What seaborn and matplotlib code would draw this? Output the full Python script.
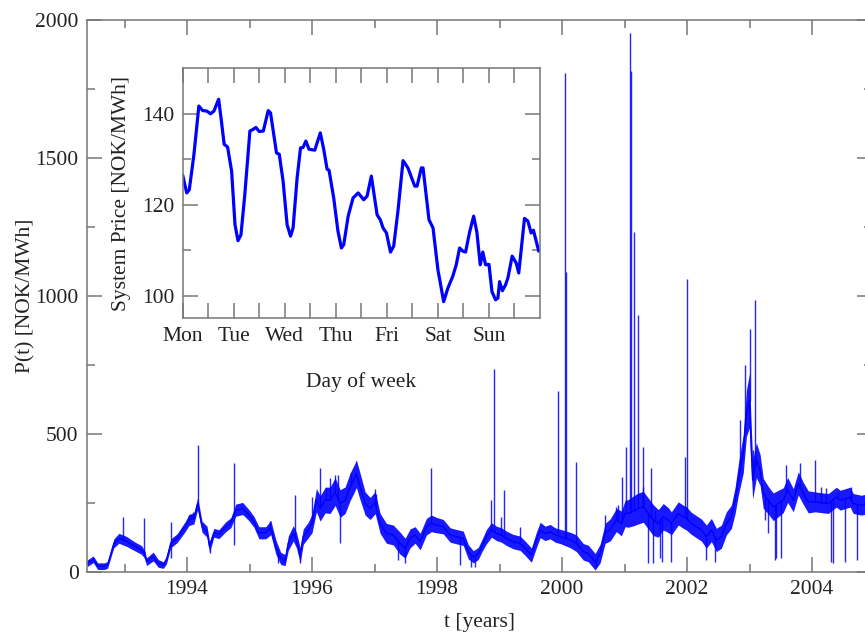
import numpy as np
import pandas as pd
import matplotlib
matplotlib.use("Agg")
import matplotlib.pyplot as plt
import seaborn as sns
from matplotlib.ticker import MultipleLocator, FixedLocator

# ---------------- data ----------------
# main series: smoothed level of the daily system price, with half-width of the daily noise band
year = [1992.40, 1992.50, 1992.57, 1992.68, 1992.73, 1992.80, 1992.83, 1992.91, 1993.03, 1993.17,
        1993.27, 1993.33, 1993.35, 1993.46, 1993.54, 1993.62, 1993.67, 1993.74, 1993.84, 1993.97,
        1994.03, 1994.11, 1994.17, 1994.24, 1994.32, 1994.36, 1994.43, 1994.51, 1994.62, 1994.70,
        1994.78, 1994.89, 1994.99, 1995.07, 1995.15, 1995.26, 1995.34, 1995.42, 1995.50, 1995.57,
        1995.62, 1995.70, 1995.75, 1995.81, 1995.86, 1995.94, 1996.00, 1996.07, 1996.13, 1996.21,
        1996.29, 1996.37, 1996.45, 1996.53, 1996.61, 1996.67, 1996.71, 1996.77, 1996.85, 1996.93,
        1997.01, 1997.09, 1997.19, 1997.30, 1997.41, 1997.49, 1997.57, 1997.65, 1997.73, 1997.83,
        1997.91, 1997.99, 1998.10, 1998.21, 1998.31, 1998.42, 1998.50, 1998.58, 1998.66, 1998.72,
        1998.79, 1998.87, 1998.95, 1999.03, 1999.11, 1999.22, 1999.33, 1999.41, 1999.51, 1999.59,
        1999.65, 1999.73, 1999.81, 1999.89, 1999.98, 2000.13, 2000.23, 2000.34, 2000.42, 2000.53,
        2000.61, 2000.69, 2000.77, 2000.87, 2000.95, 2001.01, 2001.06, 2001.14, 2001.22, 2001.30,
        2001.38, 2001.46, 2001.54, 2001.62, 2001.70, 2001.75, 2001.86, 2001.94, 2001.99, 2002.07,
        2002.15, 2002.23, 2002.31, 2002.39, 2002.47, 2002.55, 2002.63, 2002.71, 2002.77, 2002.82,
        2002.90, 2002.95, 2003.00, 2003.02, 2003.05, 2003.11, 2003.17, 2003.22, 2003.30, 2003.38,
        2003.46, 2003.54, 2003.61, 2003.70, 2003.78, 2003.86, 2003.94, 2004.05, 2004.15, 2004.26,
        2004.39, 2004.45, 2004.61, 2004.66, 2004.79, 2004.96]
price = [30, 45, 20, 20, 25, 80, 103, 121, 110, 91,
         79, 60, 36, 55, 30, 24, 42, 103, 121, 163,
         187, 193, 247, 163, 145, 90, 141, 136, 163, 177,
         223, 229, 205, 181, 141, 141, 160, 90, 48, 42,
         103, 139, 115, 60, 127, 151, 175, 259, 229, 259,
         259, 290, 247, 259, 308, 335, 355, 308, 247, 229,
         250, 175, 139, 133, 103, 85, 121, 133, 109, 163,
         175, 169, 163, 133, 127, 121, 72, 54, 66, 95,
         127, 151, 139, 133, 121, 109, 103, 85, 60, 115,
         151, 139, 145, 133, 127, 115, 103, 72, 66, 36,
         66, 139, 151, 187, 175, 211, 211, 220, 229, 235,
         211, 187, 175, 199, 187, 175, 211, 199, 193, 175,
         163, 151, 127, 151, 115, 127, 175, 199, 259, 332,
         428, 573, 620, 489, 332, 404, 368, 284, 259, 235,
         247, 259, 296, 259, 320, 284, 253, 253, 250, 247,
         270, 259, 270, 247, 241, 250]
spread = [12, 12, 12, 12, 12, 14, 16, 18, 18, 16,
          16, 14, 14, 16, 14, 12, 14, 16, 16, 18,
          20, 20, 22, 20, 20, 20, 16, 16, 18, 18,
          22, 22, 20, 20, 22, 22, 26, 26, 22, 20,
          26, 28, 28, 28, 28, 28, 34, 42, 46, 46,
          48, 50, 50, 48, 50, 50, 50, 48, 42, 40,
          40, 36, 36, 36, 40, 36, 34, 30, 30, 30,
          30, 28, 26, 26, 26, 26, 26, 22, 22, 22,
          26, 26, 26, 26, 26, 26, 26, 26, 26, 28,
          28, 26, 26, 26, 26, 28, 30, 30, 30, 30,
          34, 36, 40, 42, 45, 48, 50, 54, 56, 56,
          56, 56, 50, 48, 45, 42, 42, 42, 42, 40,
          40, 40, 42, 42, 42, 42, 42, 42, 48, 56,
          70, 84, 98, 84, 70, 63, 56, 54, 50, 50,
          48, 45, 45, 42, 42, 40, 40, 36, 36, 36,
          36, 36, 36, 36, 36, 36]

# isolated price spikes (upwards) and dips (downwards)
spike_year = [1992.97, 1993.31, 1993.74, 1994.03, 1994.07, 1994.10, 1994.18, 1994.75, 1995.33, 1995.72,
              1996.00, 1996.13, 1996.23, 1996.29, 1996.37, 1996.42, 1996.63, 1997.01, 1997.03, 1997.91,
              1998.86, 1998.91, 1999.02, 1999.07, 1999.33, 1999.94, 2000.05, 2000.06, 2000.22, 2000.69,
              2000.87, 2000.90, 2000.96, 2001.02, 2001.09, 2001.10, 2001.15, 2001.22, 2001.29, 2001.30,
              2001.43, 2001.49, 2001.96, 2002.00, 2002.85, 2002.93, 2003.00, 2003.05, 2003.09, 2003.59,
              2003.80, 2004.04, 2004.15, 2004.23, 2004.42, 2004.63]
spike_price = [199, 193, 181, 205, 210, 215, 458, 392, 185, 278,
               271, 374, 308, 338, 350, 350, 356, 300, 283, 374,
               259, 733, 199, 296, 163, 654, 1806, 1086, 398, 205,
               235, 241, 344, 452, 1950, 1815, 1230, 929, 452, 308,
               374, 223, 416, 1062, 549, 748, 881, 440, 983, 386,
               392, 404, 308, 302, 290, 308]
dip_year = [1993.75, 1994.36, 1994.75, 1995.45, 1995.55, 1995.81, 1996.45, 1997.38, 1997.49, 1998.37,
            1998.55, 1998.61, 2000.55, 2001.38, 2001.46, 2001.57, 2001.60, 2001.75, 2002.31, 2002.45,
            2003.25, 2003.30, 2003.41, 2003.43, 2003.51, 2004.31, 2004.34, 2004.53, 2004.72]
dip_price = [48, 66, 96, 30, 30, 30, 103, 42, 30, 24,
             18, 18, 20, 30, 33, 48, 36, 36, 42, 36,
             187, 140, 42, 48, 48, 36, 33, 36, 42]

# inset: average weekly profile
inset_hours = [0, 1.9, 3.1, 5.3, 7.6, 9.4, 11.3, 13.1, 14.7, 16.9,
               18.1, 19.5, 21.1, 23.0, 24.6, 26.0, 27.4, 29.2, 31.6, 33.2,
               34.4, 36.0, 37.9, 40.2, 41.3, 44.1, 45.4, 47.2, 49.1, 50.7,
               51.9, 53.8, 55.4, 56.6, 57.9, 59.4, 62.1, 64.7, 66.3, 67.9,
               68.8, 71.0, 73.0, 74.6, 75.7, 77.8, 80.1, 82.5, 85.1, 86.7,
               88.7, 91.4, 92.9, 94.2, 95.8, 97.7, 99.2, 101.2, 103.6, 105.9,
               109.1, 110.2, 112.2, 113.0, 115.8, 117.7, 120.0, 122.7, 124.7, 127.0,
               128.6, 130.2, 131.7, 133.0, 134.9, 136.8, 138.3, 139.9, 141.1, 142.4,
               144.0, 145.4, 147.1, 148.2, 149.0, 150.3, 151.8, 152.9, 154.9, 156.8,
               158.0, 160.7, 162.3, 163.8, 164.9, 167.4]
inset_price = [126.5, 122.6, 123.3, 131.1, 141.7, 140.7, 140.6, 140.0, 140.6, 143.2,
               138.8, 133.3, 132.7, 127.4, 115.6, 112.1, 113.4, 122.2, 136.2, 136.6,
               137.0, 136.1, 136.2, 140.7, 140.2, 131.4, 131.1, 125.2, 115.6, 113.1,
               114.9, 125.9, 132.5, 132.6, 134.0, 132.2, 132.0, 135.8, 132.2, 127.8,
               127.6, 121.5, 114.2, 110.5, 111.2, 117.5, 121.5, 122.6, 121.1, 121.9,
               126.3, 117.8, 116.7, 114.9, 113.8, 109.6, 110.9, 118.6, 129.7, 128.1,
               124.1, 124.1, 128.1, 128.1, 116.7, 114.9, 105.7, 98.7, 101.7, 104.3,
               106.8, 110.5, 109.8, 109.6, 114.0, 117.5, 114.0, 106.8, 109.6, 106.8,
               106.9, 100.9, 99.1, 99.5, 103.1, 101.1, 102.4, 103.9, 108.7, 107.2,
               105.0, 117.0, 116.4, 113.8, 114.4, 109.8]
day_ticks = [0, 24, 48, 72, 96, 120, 144]
day_labels = ["Mon", "Tue", "Wed", "Thu", "Fri", "Sat", "Sun"]
year_ticks = [1994, 1996, 1998, 2000, 2002, 2004]
price_ticks = [0, 500, 1000, 1500, 2000]

# ---------------- styling ----------------
sns.set_theme(style="ticks")
plt.rcParams['font.family'] = ['Liberation Serif', 'DejaVu Serif']
FS = 15.5
SPINE = '#777777'
TXT = '#222222'
BLUE = '#0000ff'

fig = plt.figure(figsize=(8.65, 6.43), dpi=100)
ax = fig.add_axes([0.1006, 0.1109, 0.9075, 0.8585])

main = pd.DataFrame({"t": year, "p": price, "w": spread})
lo = (main["p"] - main["w"]).clip(lower=2)
hi = main["p"] + main["w"]
ax.fill_between(main["t"], lo, hi, color=BLUE, alpha=0.9, lw=0)
sns.lineplot(data=main, x="t", y="p", ax=ax, color=BLUE, lw=1.0)

sp_t = np.array(spike_year)
ax.vlines(sp_t, np.interp(sp_t, main["t"], main["p"]), spike_price, color=BLUE, lw=1.0, alpha=0.85)
dp_t = np.array(dip_year)
ax.vlines(dp_t, dip_price, np.interp(dp_t, main["t"], main["p"]), color=BLUE, lw=1.0, alpha=0.85)

ax.set_xlim(1992.4, 2004.96)
ax.set_ylim(0, 2000)
ax.xaxis.set_major_locator(FixedLocator(year_ticks))
ax.xaxis.set_minor_locator(MultipleLocator(1))
ax.yaxis.set_major_locator(FixedLocator(price_ticks))
ax.yaxis.set_minor_locator(MultipleLocator(250))
ax.set_xticklabels([str(y) for y in year_ticks])
ax.set_yticklabels([str(p) for p in price_ticks])
ax.tick_params(which='both', direction='in', top=True, right=True, color=SPINE,
               labelcolor=TXT, labelsize=FS, width=1.1)
ax.tick_params(which='major', length=11, pad=6)
ax.tick_params(which='minor', length=5.5)
for s in ax.spines.values():
    s.set_color(SPINE)
    s.set_linewidth(1.1)
ax.set_xlabel("t [years]", fontsize=FS, color=TXT)
ax.set_ylabel("P(t) [NOK/MWh]", fontsize=FS, color=TXT)
ax.xaxis.set_label_coords(0.5, -0.075)
ax.yaxis.set_label_coords(-0.066, 0.5)

# ---------------- inset ----------------
axi = fig.add_axes([0.2112, 0.5047, 0.4131, 0.3891])
inset = pd.DataFrame({"h": inset_hours, "v": inset_price})
sns.lineplot(data=inset, x="h", y="v", ax=axi, color=BLUE, lw=2.3)
axi.set_xlim(0, 168)
axi.set_ylim(95, 150)
axi.xaxis.set_major_locator(FixedLocator(day_ticks))
axi.set_xticklabels(day_labels)
axi.xaxis.set_minor_locator(FixedLocator([12, 36, 60, 84, 108, 132, 156]))
axi.yaxis.set_major_locator(FixedLocator([100, 120, 140]))
axi.yaxis.set_minor_locator(FixedLocator([110, 130]))
axi.tick_params(which='both', direction='in', top=True, right=True, color=SPINE,
                labelcolor=TXT, labelsize=FS, width=1.1)
axi.tick_params(which='major', length=11, pad=6)
axi.tick_params(axis='y', which='minor', length=5.5)
axi.tick_params(axis='x', which='minor', length=11)
for s in axi.spines.values():
    s.set_color(SPINE)
    s.set_linewidth(1.1)
axi.set_xlabel("Day of week", fontsize=FS, color=TXT)
axi.set_ylabel("System Price [NOK/MWh]", fontsize=FS, color=TXT)
axi.xaxis.set_label_coords(0.5, -0.214)
axi.yaxis.set_label_coords(-0.145, 0.5)

fig.savefig("out.png", dpi=100, facecolor="white")
